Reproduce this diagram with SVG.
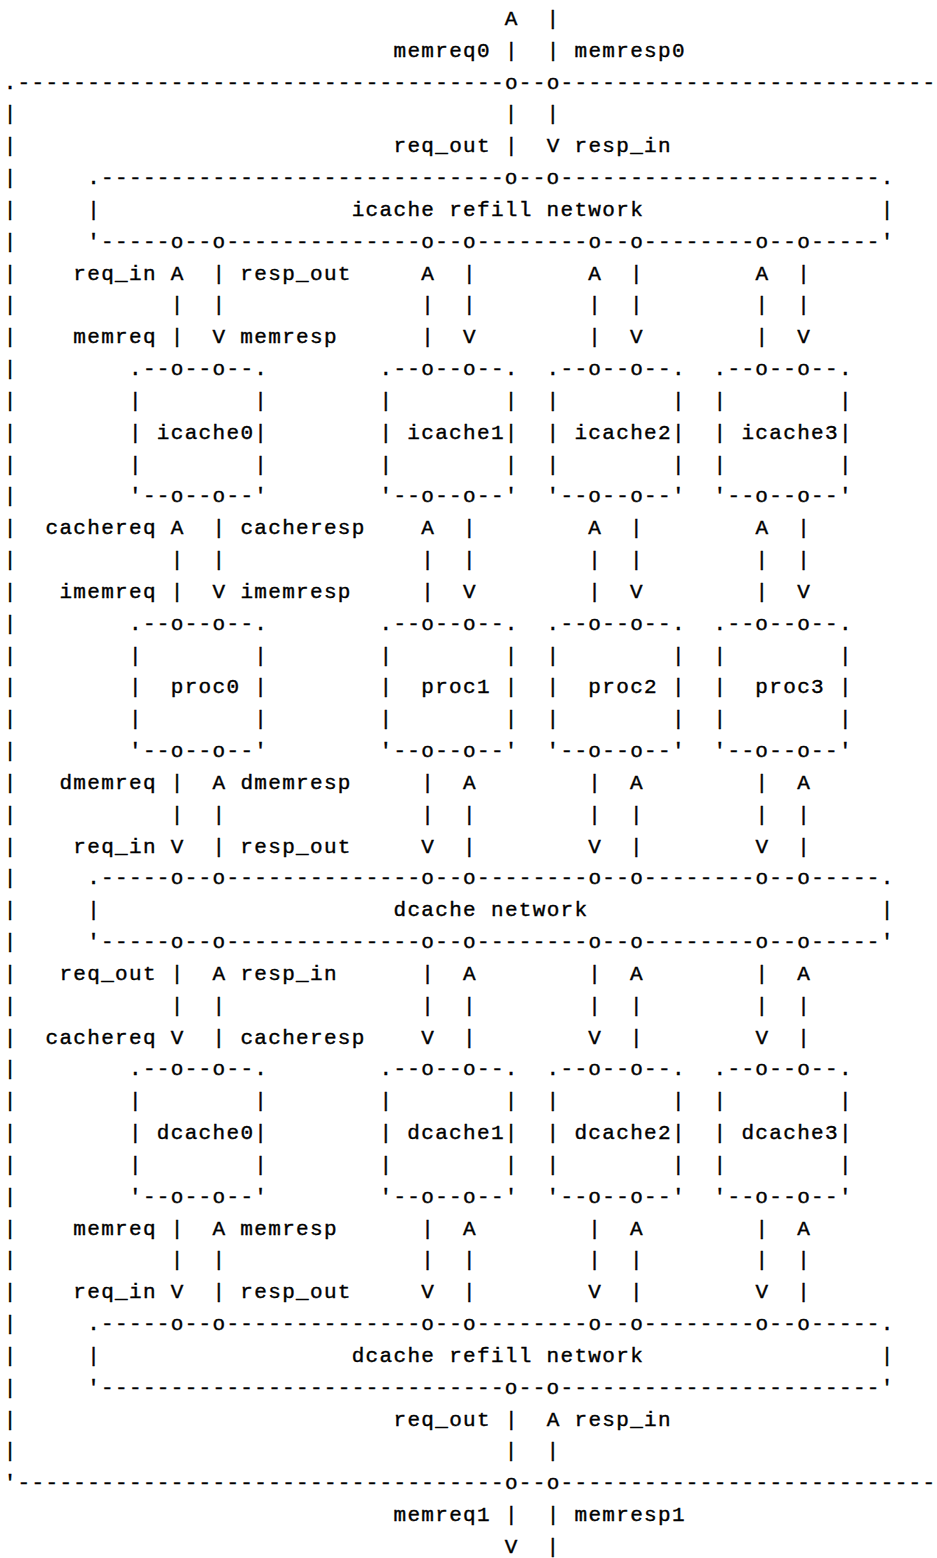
<svg xmlns="http://www.w3.org/2000/svg" width="937" height="1558" viewBox="0 0 937 1558" xml:space="preserve">
<style>
text { font-family: "Liberation Mono", "Courier New", monospace; font-size: 21px; letter-spacing: 1.32px; fill: #000; stroke: #000; stroke-width: 0.4px; white-space: pre; }
</style>
<rect x="0" y="0" width="937" height="1558" fill="#fff"/>
<g id="outer-box">
<text x="3.7" y="88.66">.-----------------------------------o--o---------------------------</text>
<text x="3.7" y="1489.18">'-----------------------------------o--o---------------------------</text>
<text><tspan x="3.7" y="120.49">|</tspan><tspan x="3.7" y="152.32">|</tspan><tspan x="3.7" y="184.15">|</tspan><tspan x="3.7" y="215.98">|</tspan><tspan x="3.7" y="247.81">|</tspan><tspan x="3.7" y="279.64">|</tspan><tspan x="3.7" y="311.47">|</tspan><tspan x="3.7" y="343.3">|</tspan><tspan x="3.7" y="375.13">|</tspan><tspan x="3.7" y="406.96">|</tspan><tspan x="3.7" y="438.79">|</tspan><tspan x="3.7" y="470.62">|</tspan><tspan x="3.7" y="502.45">|</tspan><tspan x="3.7" y="534.28">|</tspan><tspan x="3.7" y="566.11">|</tspan><tspan x="3.7" y="597.94">|</tspan><tspan x="3.7" y="629.77">|</tspan><tspan x="3.7" y="661.6">|</tspan><tspan x="3.7" y="693.43">|</tspan><tspan x="3.7" y="725.26">|</tspan><tspan x="3.7" y="757.09">|</tspan><tspan x="3.7" y="788.92">|</tspan><tspan x="3.7" y="820.75">|</tspan><tspan x="3.7" y="852.58">|</tspan><tspan x="3.7" y="884.41">|</tspan><tspan x="3.7" y="916.24">|</tspan><tspan x="3.7" y="948.07">|</tspan><tspan x="3.7" y="979.9">|</tspan><tspan x="3.7" y="1011.73">|</tspan><tspan x="3.7" y="1043.56">|</tspan><tspan x="3.7" y="1075.39">|</tspan><tspan x="3.7" y="1107.22">|</tspan><tspan x="3.7" y="1139.05">|</tspan><tspan x="3.7" y="1170.88">|</tspan><tspan x="3.7" y="1202.71">|</tspan><tspan x="3.7" y="1234.54">|</tspan><tspan x="3.7" y="1266.37">|</tspan><tspan x="3.7" y="1298.2">|</tspan><tspan x="3.7" y="1330.03">|</tspan><tspan x="3.7" y="1361.86">|</tspan><tspan x="3.7" y="1393.69">|</tspan><tspan x="3.7" y="1425.52">|</tspan><tspan x="3.7" y="1457.35">|</tspan></text>
</g>
<g id="icache-refill-network">
<text x="87.2" y="184.15">.-----------------------------o--o-----------------------.</text>
<text x="87.2" y="215.98">|</text>
<text x="351.7" y="215.98">icache refill network</text>
<text x="880.7" y="215.98">|</text>
<text x="87.2" y="247.81">'-----o--o--------------o--o--------o--o--------o--o-----'</text>
</g>
<g id="icache0">
<text x="129" y="375.13">.--o--o--.</text>
<text x="129" y="406.96">|        |</text>
<text x="129" y="438.79">| icache0|</text>
<text x="129" y="470.62">|        |</text>
<text x="129" y="502.45">'--o--o--'</text>
</g>
<g id="icache1">
<text x="379.5" y="375.13">.--o--o--.</text>
<text x="379.5" y="406.96">|        |</text>
<text x="379.5" y="438.79">| icache1|</text>
<text x="379.5" y="470.62">|        |</text>
<text x="379.5" y="502.45">'--o--o--'</text>
</g>
<g id="icache2">
<text x="546.6" y="375.13">.--o--o--.</text>
<text x="546.6" y="406.96">|        |</text>
<text x="546.6" y="438.79">| icache2|</text>
<text x="546.6" y="470.62">|        |</text>
<text x="546.6" y="502.45">'--o--o--'</text>
</g>
<g id="icache3">
<text x="713.6" y="375.13">.--o--o--.</text>
<text x="713.6" y="406.96">|        |</text>
<text x="713.6" y="438.79">| icache3|</text>
<text x="713.6" y="470.62">|        |</text>
<text x="713.6" y="502.45">'--o--o--'</text>
</g>
<g id="proc0">
<text x="129" y="629.77">.--o--o--.</text>
<text x="129" y="661.6">|        |</text>
<text x="129" y="693.43">|  proc0 |</text>
<text x="129" y="725.26">|        |</text>
<text x="129" y="757.09">'--o--o--'</text>
</g>
<g id="proc1">
<text x="379.5" y="629.77">.--o--o--.</text>
<text x="379.5" y="661.6">|        |</text>
<text x="379.5" y="693.43">|  proc1 |</text>
<text x="379.5" y="725.26">|        |</text>
<text x="379.5" y="757.09">'--o--o--'</text>
</g>
<g id="proc2">
<text x="546.6" y="629.77">.--o--o--.</text>
<text x="546.6" y="661.6">|        |</text>
<text x="546.6" y="693.43">|  proc2 |</text>
<text x="546.6" y="725.26">|        |</text>
<text x="546.6" y="757.09">'--o--o--'</text>
</g>
<g id="proc3">
<text x="713.6" y="629.77">.--o--o--.</text>
<text x="713.6" y="661.6">|        |</text>
<text x="713.6" y="693.43">|  proc3 |</text>
<text x="713.6" y="725.26">|        |</text>
<text x="713.6" y="757.09">'--o--o--'</text>
</g>
<g id="dcache-network">
<text x="87.2" y="884.41">.-----o--o--------------o--o--------o--o--------o--o-----.</text>
<text x="87.2" y="916.24">|</text>
<text x="393.5" y="916.24">dcache network</text>
<text x="880.7" y="916.24">|</text>
<text x="87.2" y="948.07">'-----o--o--------------o--o--------o--o--------o--o-----'</text>
</g>
<g id="dcache0">
<text x="129" y="1075.39">.--o--o--.</text>
<text x="129" y="1107.22">|        |</text>
<text x="129" y="1139.05">| dcache0|</text>
<text x="129" y="1170.88">|        |</text>
<text x="129" y="1202.71">'--o--o--'</text>
</g>
<g id="dcache1">
<text x="379.5" y="1075.39">.--o--o--.</text>
<text x="379.5" y="1107.22">|        |</text>
<text x="379.5" y="1139.05">| dcache1|</text>
<text x="379.5" y="1170.88">|        |</text>
<text x="379.5" y="1202.71">'--o--o--'</text>
</g>
<g id="dcache2">
<text x="546.6" y="1075.39">.--o--o--.</text>
<text x="546.6" y="1107.22">|        |</text>
<text x="546.6" y="1139.05">| dcache2|</text>
<text x="546.6" y="1170.88">|        |</text>
<text x="546.6" y="1202.71">'--o--o--'</text>
</g>
<g id="dcache3">
<text x="713.6" y="1075.39">.--o--o--.</text>
<text x="713.6" y="1107.22">|        |</text>
<text x="713.6" y="1139.05">| dcache3|</text>
<text x="713.6" y="1170.88">|        |</text>
<text x="713.6" y="1202.71">'--o--o--'</text>
</g>
<g id="dcache-refill-network">
<text x="87.2" y="1330.03">.-----o--o--------------o--o--------o--o--------o--o-----.</text>
<text x="87.2" y="1361.86">|</text>
<text x="351.7" y="1361.86">dcache refill network</text>
<text x="880.7" y="1361.86">|</text>
<text x="87.2" y="1393.69">'-----------------------------o--o-----------------------'</text>
</g>
<g id="connectors">
<text x="504.8" y="25">A  |</text>
<text x="393.5" y="56.83">memreq0 |  | memresp0</text>
<text x="504.8" y="120.49">|  |</text>
<text x="393.5" y="152.32">req_out |  V resp_in</text>

<text x="73.3" y="279.64">req_in A  | resp_out</text>
<text x="421.3" y="279.64">A  |</text>
<text x="588.3" y="279.64">A  |</text>
<text x="755.4" y="279.64">A  |</text>
<text x="170.7" y="311.47">|  |</text>
<text x="421.3" y="311.47">|  |</text>
<text x="588.3" y="311.47">|  |</text>
<text x="755.4" y="311.47">|  |</text>
<text x="73.3" y="343.3">memreq |  V memresp</text>
<text x="421.3" y="343.3">|  V</text>
<text x="588.3" y="343.3">|  V</text>
<text x="755.4" y="343.3">|  V</text>

<text x="45.5" y="534.28">cachereq A  | cacheresp</text>
<text x="421.3" y="534.28">A  |</text>
<text x="588.3" y="534.28">A  |</text>
<text x="755.4" y="534.28">A  |</text>
<text x="170.7" y="566.11">|  |</text>
<text x="421.3" y="566.11">|  |</text>
<text x="588.3" y="566.11">|  |</text>
<text x="755.4" y="566.11">|  |</text>
<text x="59.4" y="597.94">imemreq |  V imemresp</text>
<text x="421.3" y="597.94">|  V</text>
<text x="588.3" y="597.94">|  V</text>
<text x="755.4" y="597.94">|  V</text>

<text x="59.4" y="788.92">dmemreq |  A dmemresp</text>
<text x="421.3" y="788.92">|  A</text>
<text x="588.3" y="788.92">|  A</text>
<text x="755.4" y="788.92">|  A</text>
<text x="170.7" y="820.75">|  |</text>
<text x="421.3" y="820.75">|  |</text>
<text x="588.3" y="820.75">|  |</text>
<text x="755.4" y="820.75">|  |</text>
<text x="73.3" y="852.58">req_in V  | resp_out</text>
<text x="421.3" y="852.58">V  |</text>
<text x="588.3" y="852.58">V  |</text>
<text x="755.4" y="852.58">V  |</text>

<text x="59.4" y="979.9">req_out |  A resp_in</text>
<text x="421.3" y="979.9">|  A</text>
<text x="588.3" y="979.9">|  A</text>
<text x="755.4" y="979.9">|  A</text>
<text x="170.7" y="1011.73">|  |</text>
<text x="421.3" y="1011.73">|  |</text>
<text x="588.3" y="1011.73">|  |</text>
<text x="755.4" y="1011.73">|  |</text>
<text x="45.5" y="1043.56">cachereq V  | cacheresp</text>
<text x="421.3" y="1043.56">V  |</text>
<text x="588.3" y="1043.56">V  |</text>
<text x="755.4" y="1043.56">V  |</text>

<text x="73.3" y="1234.54">memreq |  A memresp</text>
<text x="421.3" y="1234.54">|  A</text>
<text x="588.3" y="1234.54">|  A</text>
<text x="755.4" y="1234.54">|  A</text>
<text x="170.7" y="1266.37">|  |</text>
<text x="421.3" y="1266.37">|  |</text>
<text x="588.3" y="1266.37">|  |</text>
<text x="755.4" y="1266.37">|  |</text>
<text x="73.3" y="1298.2">req_in V  | resp_out</text>
<text x="421.3" y="1298.2">V  |</text>
<text x="588.3" y="1298.2">V  |</text>
<text x="755.4" y="1298.2">V  |</text>

<text x="393.5" y="1425.52">req_out |  A resp_in</text>
<text x="504.8" y="1457.35">|  |</text>
<text x="393.5" y="1521.01">memreq1 |  | memresp1</text>
<text x="504.8" y="1552.84">V  |</text>
</g>
</svg>
